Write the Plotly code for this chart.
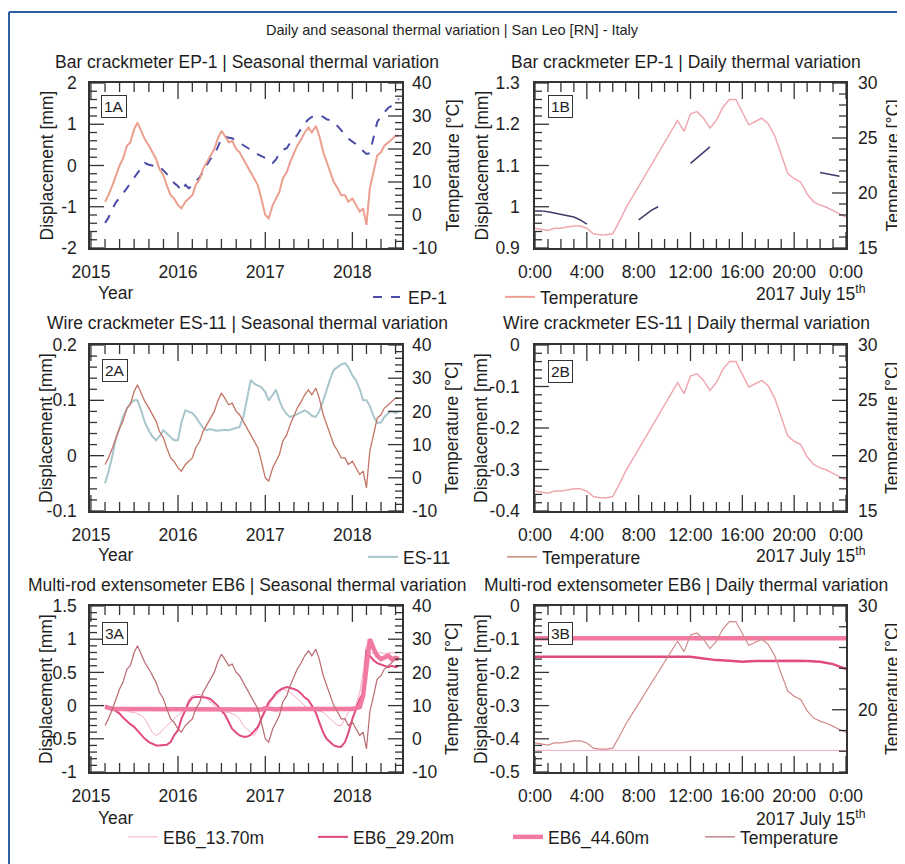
from datetime import datetime
import plotly.graph_objects as go

W, H = 905, 864            # reference picture size
OFF = 8                    # page body margin offset of the plot div
WF, HF = W - OFF, H - OFF  # figure size
FONT = "Liberation Sans, Arial, sans-serif"
TXT = "#1e1e1e"
AXC = "#333333"
FS = 17.5

# ---------------- data ----------------
season_dates = [f"{y}-{m:02d}-{d:02d}" for y in range(2015, 2019) for m in range(1, 13) for d in (1, 15)
                if (2015, 3) <= (y, m) <= (2018, 7)]

temp_season = [4, 6, 9, 12, 15, 17, 21, 22, 26, 28, 25, 23, 21, 19, 17, 14, 12, 9, 6, 5,
               3, 2, 4, 5, 6, 9, 11, 14, 16, 18, 20, 23, 25.5, 24, 22, 22.5, 20, 19, 17, 15, 13, 11, 9, 5,
               0, -1, 3, 5, 7, 11, 13, 16, 19, 21, 23, 25, 26.5, 25, 27, 24, 19, 16, 13, 10, 8, 6, 6, 4,
               5, 3, 1, 2, -3, 8, 13, 18, 19, 21, 22, 23, 24, 24]

ep1_season = [-1.39, -1.27, -1.05, -0.9, -0.78, -0.68, -0.55, -0.42, -0.3, -0.18, -0.05, 0.06, 0.02, 0.0, -0.02, -0.02, -0.12, -0.2, -0.3, -0.42,
              -0.5, -0.62, -0.47, -0.55, -0.5, -0.4, -0.28, -0.15, 0.0, 0.15, 0.25, 0.45, 0.65, 0.71, 0.67, 0.66, 0.6, 0.55, 0.5, 0.45, 0.4, 0.33, 0.27, 0.23,
              0.18, 0.1, 0.06, 0.15, 0.3, 0.38, 0.42, 0.55, 0.65, 0.74, 0.9, 1.02, 1.12, 1.18, 1.2, 1.22, 1.18, 1.12, 1.1, 1.05, 0.95, 0.85, 0.74, 0.65,
              0.58, 0.52, 0.45, 0.35, 0.28, 0.3, 0.75, 1.05, 1.2, 1.3, 1.4, 1.45, 1.55, 1.62]

es11_season = [-0.05, -0.03, 0.0, 0.03, 0.05, 0.07, 0.085, 0.095, 0.1, 0.1, 0.08, 0.06, 0.045, 0.035, 0.028, 0.035, 0.046, 0.04, 0.035, 0.028,
               0.028, 0.06, 0.082, 0.08, 0.077, 0.07, 0.06, 0.05, 0.046, 0.048, 0.046, 0.045, 0.046, 0.047, 0.046, 0.048, 0.05, 0.052, 0.07, 0.1, 0.137, 0.13, 0.127, 0.124,
               0.115, 0.1, 0.11, 0.119, 0.1, 0.085, 0.075, 0.07, 0.072, 0.075, 0.08, 0.082, 0.078, 0.072, 0.07, 0.08, 0.1, 0.12, 0.14, 0.155, 0.16, 0.165, 0.167, 0.16,
               0.145, 0.137, 0.12, 0.1, 0.1, 0.09, 0.07, 0.059, 0.06, 0.07, 0.077, 0.08, 0.077, 0.08]

eb6_13_season = [0.0, -0.05, -0.03, -0.05, -0.06, -0.05, -0.08, -0.1, -0.1, -0.12, -0.15, -0.2, -0.3, -0.4, -0.45, -0.42, -0.35, -0.3, -0.25, -0.2,
                 -0.15, -0.1, -0.05, 0.1, 0.15, 0.16, 0.17, 0.15, 0.1, 0.05, 0.0, -0.05, -0.08, -0.1, -0.1, -0.12, -0.15, -0.2, -0.3, -0.35, -0.4, -0.45, -0.35, -0.2,
                 -0.1, 0.0, 0.1, 0.15, 0.2, 0.25, 0.22, 0.2, 0.15, 0.1, 0.05, 0.0, -0.05, -0.05, -0.08, -0.08, -0.1, -0.15, -0.2, -0.25, -0.3, -0.3, -0.2, -0.1,
                 -0.05, 0.0, 0.2, 0.5, 0.9, 0.8, 0.78, 0.79, 0.8, 0.78, 0.79, 0.8, 0.79, 0.8]

eb6_29_season = [0.0, -0.02, -0.04, -0.08, -0.12, -0.18, -0.24, -0.28, -0.32, -0.38, -0.45, -0.5, -0.55, -0.57, -0.6, -0.6, -0.6, -0.59, -0.55, -0.45,
                 -0.37, -0.2, -0.07, 0.05, 0.12, 0.13, 0.13, 0.13, 0.12, 0.1, 0.05, 0.0, -0.08, -0.13, -0.25, -0.35, -0.41, -0.45, -0.47, -0.47, -0.44, -0.38, -0.32, -0.2,
                 -0.07, 0.05, 0.12, 0.19, 0.23, 0.26, 0.28, 0.27, 0.25, 0.23, 0.18, 0.12, 0.08, 0.0, -0.11, -0.25, -0.41, -0.5, -0.56, -0.6, -0.62, -0.62, -0.55, -0.41,
                 -0.2, -0.07, 0.1, 0.19, 0.84, 0.75, 0.68, 0.64, 0.62, 0.6, 0.58, 0.6, 0.58, 0.6]

eb6_44_season = [-0.02, -0.04, -0.05, -0.05, -0.05, -0.06, -0.05, -0.05, -0.06, -0.05, -0.05, -0.05, -0.06, -0.05, -0.05, -0.06, -0.05, -0.05, -0.05, -0.05,
                 -0.05, -0.06, -0.05, -0.05, -0.05, -0.06, -0.05, -0.05, -0.05, -0.06, -0.05, -0.05, -0.05, -0.05, -0.06, -0.05, -0.05, -0.05, -0.06, -0.05, -0.05, -0.05, -0.05, -0.06,
                 -0.04, -0.05, -0.05, -0.06, -0.05, -0.05, -0.05, -0.05, -0.06, -0.05, -0.05, -0.05, -0.05, -0.06, -0.05, -0.05, -0.05, -0.05, -0.06, -0.05, -0.05, -0.05, -0.05, -0.05,
                 -0.05, -0.04, -0.02, 0.15, 0.6, 1.0, 0.85, 0.75, 0.7, 0.72, 0.75, 0.7, 0.72, 0.7]

# daily (2017 July 15th), half-hourly
hours = [i * 0.5 for i in range(49)]
temp_daily = [16.8, 16.7, 16.6, 16.8, 16.8, 16.9, 17.0, 17.0, 16.8, 16.3, 16.2, 16.2, 16.3, 17.4, 18.6, 19.6, 20.6,
              21.6, 22.6, 23.6, 24.6, 25.6, 26.6, 25.6, 27.2, 27.4, 26.8, 25.9, 26.6, 27.8, 28.5, 28.5, 27.3,
              26.2, 26.5, 26.8, 26.3, 25.2, 23.5, 21.8, 21.3, 21.0, 19.9, 19.2, 18.9, 18.7, 18.4, 18.1, 17.8]
ep1_daily = [0.99, 0.99, 0.988, 0.985, 0.982, 0.978, 0.975, 0.968, 0.958, None, None, None, None, None, None, None,
             0.968, 0.98, 0.992, 1.0, None, None, None, None, 1.105, 1.118, 1.13, 1.145,
             None, None, None, None, None, None, None, None, None, None, None, None, None, None, None, None,
             1.083, 1.08, 1.077, 1.074, None]
hours_eb6 = list(range(25))
eb6_13_daily = [-0.435, -0.435, -0.435, -0.435, -0.435, -0.435, -0.435, -0.435, -0.435, -0.435, -0.435, -0.435, -0.435,
                -0.435, -0.435, -0.435, -0.435, -0.435, -0.435, -0.435, -0.435, -0.435, -0.435, -0.435, -0.435]
eb6_29_daily = [-0.153, -0.153, -0.153, -0.153, -0.153, -0.153, -0.153, -0.153, -0.153, -0.153, -0.153, -0.153, -0.153,
                -0.158, -0.163, -0.165, -0.168, -0.166, -0.165, -0.165, -0.165, -0.166, -0.168, -0.175, -0.19]
eb6_44_daily = [-0.097, -0.097, -0.097, -0.097, -0.097, -0.097, -0.097, -0.097, -0.097, -0.097, -0.097, -0.097, -0.097,
                -0.097, -0.097, -0.097, -0.097, -0.097, -0.097, -0.097, -0.097, -0.097, -0.097, -0.097, -0.097]

hour_ticks = [0, 4, 8, 12, 16, 20, 24]
hour_labels = ["0:00", "4:00", "8:00", "12:00", "16:00", "20:00", "0:00"]
year_ticks = ["2015-01-01", "2016-01-01", "2017-01-01", "2018-01-01"]

yl_1a = ([-2, -1, 0, 1, 2], ["-2", "-1", "0", "1", "2"])
yl_1b = ([0.9, 1.0, 1.1, 1.2, 1.3], ["0.9", "1", "1.1", "1.2", "1.3"])
yl_2a = ([-0.1, 0, 0.1, 0.2], ["-0.1", "0", "0.1", "0.2"])
yl_2b = ([-0.4, -0.3, -0.2, -0.1, 0], ["-0.4", "-0.3", "-0.2", "-0.1", "0"])
yl_3a = ([-1, -0.5, 0, 0.5, 1, 1.5], ["-1", "-0.5", "0", "0.5", "1", "1.5"])
yl_3b = ([-0.5, -0.4, -0.3, -0.2, -0.1, 0], ["-0.5", "-0.4", "-0.3", "-0.2", "-0.1", "0"])
yr_season = ([-10, 0, 10, 20, 30, 40], ["-10", "0", "10", "20", "30", "40"])
yr_daily = ([15, 20, 25, 30], ["15", "20", "25", "30"])
yr_3b = ([20, 30], ["20", "30"])

# ---------------- figure ----------------
fig = go.Figure()

C_EP1 = "#4b4ba8"
C_TEMP_A = "#eb9f8f"
C_TEMP_B = "#f0a8b0"
C_ES11 = "#a8c6cc"
C_TEMP_2A = "#c47466"
C_EP1_D = "#3c3c6c"
C_TEMP_3 = "#b86a70"
C_EB13 = "#f4aac2"
C_EB29 = "#e24a82"
C_EB44 = "#f27aa0"

fig.add_trace(go.Scatter(x=season_dates, y=temp_season, xaxis="x", yaxis="y2", mode="lines",
                         line=dict(color=C_TEMP_A, width=2), name="Temperature", legend="legend2"))
fig.add_trace(go.Scatter(x=season_dates, y=ep1_season, xaxis="x", yaxis="y", mode="lines",
                         line=dict(color=C_EP1, width=2, dash="dash"), name="EP-1", legend="legend"))
fig.add_trace(go.Scatter(x=hours, y=temp_daily, xaxis="x2", yaxis="y4", mode="lines",
                         line=dict(color=C_TEMP_B, width=1.5), showlegend=False))
fig.add_trace(go.Scatter(x=hours, y=ep1_daily, xaxis="x2", yaxis="y3", mode="lines",
                         line=dict(color=C_EP1_D, width=1.5), showlegend=False, connectgaps=False))
fig.add_trace(go.Scatter(x=season_dates, y=es11_season, xaxis="x3", yaxis="y5", mode="lines",
                         line=dict(color=C_ES11, width=2), name="ES-11", legend="legend3"))
fig.add_trace(go.Scatter(x=season_dates, y=temp_season, xaxis="x3", yaxis="y6", mode="lines",
                         line=dict(color=C_TEMP_2A, width=1.3), name="Temperature", legend="legend4"))
fig.add_trace(go.Scatter(x=[], y=[], xaxis="x4", yaxis="y7", mode="lines",
                         line=dict(color=C_ES11, width=1.5), showlegend=False))
fig.add_trace(go.Scatter(x=hours, y=temp_daily, xaxis="x4", yaxis="y8", mode="lines",
                         line=dict(color=C_TEMP_B, width=1.5), showlegend=False))
fig.add_trace(go.Scatter(x=season_dates, y=temp_season, xaxis="x5", yaxis="y10", mode="lines",
                         line=dict(color=C_TEMP_3, width=1.2), name="Temperature", legend="legend8"))
fig.add_trace(go.Scatter(x=season_dates, y=eb6_13_season, xaxis="x5", yaxis="y9", mode="lines",
                         line=dict(color=C_EB13, width=1), name="EB6_13.70m", legend="legend5"))
fig.add_trace(go.Scatter(x=season_dates, y=eb6_29_season, xaxis="x5", yaxis="y9", mode="lines",
                         line=dict(color=C_EB29, width=2), name="EB6_29.20m", legend="legend6"))
fig.add_trace(go.Scatter(x=season_dates, y=eb6_44_season, xaxis="x5", yaxis="y9", mode="lines",
                         line=dict(color=C_EB44, width=4.5), name="EB6_44.60m", legend="legend7"))
fig.add_trace(go.Scatter(x=hours, y=temp_daily, xaxis="x6", yaxis="y12", mode="lines",
                         line=dict(color="#d08a8a", width=1.2), showlegend=False))
fig.add_trace(go.Scatter(x=hours_eb6, y=eb6_13_daily, xaxis="x6", yaxis="y11", mode="lines",
                         line=dict(color=C_EB13, width=1), showlegend=False))
fig.add_trace(go.Scatter(x=hours_eb6, y=eb6_29_daily, xaxis="x6", yaxis="y11", mode="lines",
                         line=dict(color=C_EB29, width=2.5), showlegend=False))
fig.add_trace(go.Scatter(x=hours_eb6, y=eb6_44_daily, xaxis="x6", yaxis="y11", mode="lines",
                         line=dict(color=C_EB44, width=4.5), showlegend=False))


def fx(p):
    return (p - OFF) / WF


def fy(p):
    return 1 - (p - OFF) / HF


tickfont = dict(size=FS, color=TXT, family=FONT)
base = dict(showline=True, linecolor=AXC, linewidth=1.5, ticks="inside", tickcolor="rgba(0,0,0,0)", tickwidth=1,
            showgrid=False, zeroline=False, automargin=False, tickfont=tickfont, fixedrange=True)

XA = (90, 402)
XB = (535, 846)
ROWS = [(83, 248), (345, 511), (606, 772)]
SEASON_RANGE = ["2014-12-28", "2018-07-28"]

layout = {}


def season_x(name, anchor):
    layout[name] = dict(base, domain=[fx(XA[0]), fx(XA[1])], type="date", anchor=anchor,
                        range=SEASON_RANGE, dtick="M12", tick0="2015-01-01",
                        tickformat="%Y", ticklen=14, mirror=True, ticklabelstandoff=7)


def daily_x(name, anchor):
    layout[name] = dict(base, domain=[fx(XB[0]), fx(XB[1])], range=[0, 24], anchor=anchor,
                        tickmode="array", tickvals=hour_ticks, ticktext=hour_labels,
                        ticklen=14, mirror=True, ticklabelstandoff=7)


def left_y(name, anchor, row, rng, tl, stand):
    layout[name] = dict(base, domain=[fy(ROWS[row][1]), fy(ROWS[row][0])], anchor=anchor, range=rng,
                        tickmode="array", tickvals=tl[0], ticktext=tl[1], ticklen=12, mirror=True,
                        ticklabelstandoff=stand)


def right_y(name, anchor, over, rng, tl, stand):
    layout[name] = dict(base, showline=False, overlaying=over, side="right", anchor=anchor, range=rng,
                        tickmode="array", tickvals=tl[0], ticktext=tl[1], ticklen=12, ticklabelstandoff=stand)


season_x("xaxis", "y")
daily_x("xaxis2", "y3")
season_x("xaxis3", "y5")
daily_x("xaxis4", "y7")
season_x("xaxis5", "y9")
daily_x("xaxis6", "y11")

# panel specs: x id, left y id, kind, row, left range, left labels, standoff, left minor step,
#              right axis name, right range, right labels, right standoff, right minor step
panels = [
    ("x", "y", "season", 0, [-2, 2], yl_1a, 8, 0.2, "yaxis2", [-10, 40], yr_season, 9, 2),
    ("x2", "y3", "daily", 0, [0.9, 1.3], yl_1b, 10, 0.02, "yaxis4", [15, 30], yr_daily, 11, 1),
    ("x3", "y5", "season", 1, [-0.1, 0.2], yl_2a, 8, 0.02, "yaxis6", [-10, 40], yr_season, 9, 2),
    ("x4", "y7", "daily", 1, [-0.4, 0], yl_2b, 10, 0.02, "yaxis8", [15, 30], yr_daily, 11, 1),
    ("x5", "y9", "season", 2, [-1, 1.5], yl_3a, 8, 0.1, "yaxis10", [-10, 40], yr_season, 9, 2),
    ("x6", "y11", "daily", 2, [-0.5, 0], yl_3b, 10, 0.02, "yaxis12", [14, 30], yr_3b, 11, 2),
]
for (xid, yid, kind, row, rl, tll, sol, mstl, rname, rr, tlr, sor, mstr) in panels:
    left_y("yaxis" + yid[1:], xid, row, rl, tll, sol)
    right_y(rname, xid, yid, rr, tlr, sor)

# ---------------- tick marks (inside, drawn on the frames) ----------------
TW = 1.3
shapes = []
XS0 = datetime(2014, 12, 28)
XS1 = datetime(2018, 7, 28)


def season_at(f):
    return (XS0 + (XS1 - XS0) * f).strftime("%Y-%m-%d %H:%M:%S")


def daily_at(f):
    return 24.0 * f


def steps(lo, hi, st):
    n = int(round((hi - lo) / st))
    return [round(lo + k * st, 6) for k in range(n + 1)]


def add_line(xref, yref, x0, x1, y0, y1):
    shapes.append(dict(type="line", xref=xref, yref=yref, x0=x0, x1=x1, y0=y0, y1=y1,
                       line=dict(color=AXC, width=TW)))


minor_months = [f"{y}-{m:02d}-01" for y in range(2015, 2019) for m in (3, 5, 7, 9, 11) if (y, m) <= (2018, 7)]
minor_hours = [h for h in range(25) if h % 4]

for (xid, yid, kind, row, rl, tll, sol, mstl, rname, rr, tlr, sor, mstr) in panels:
    ph = ROWS[row][1] - ROWS[row][0]
    pw = (XA[1] - XA[0]) if kind == "season" else (XB[1] - XB[0])
    lo, hi = rl
    at = season_at if kind == "season" else daily_at
    majors_x = year_ticks if kind == "season" else hour_ticks
    minors_x = minor_months if kind == "season" else minor_hours
    for vals, L in ((majors_x, 16), (minors_x, 9)):
        d = L / ph * (hi - lo)
        for v in vals:
            add_line(xid, yid, v, v, lo, lo + d)
            add_line(xid, yid, v, v, hi, hi - d)
    # left axis ticks
    lmin = [v for v in steps(lo, hi, mstl) if all(abs(v - t) > 1e-9 for t in tll[0])]
    for vals, L in ((tll[0], 14), (lmin, 7)):
        f = L / pw
        for v in vals:
            add_line(xid, yid, at(0), at(f), v, v)
    # right axis ticks, mapped onto the left axis scale
    rlo, rhi = rr
    rmin = [v for v in steps(rlo, rhi, mstr) if all(abs(v - t) > 1e-9 for t in tlr[0])]
    for vals, L in ((tlr[0], 14), (rmin, 7)):
        f = L / pw
        for v in vals:
            vv = lo + (v - rlo) / (rhi - rlo) * (hi - lo)
            add_line(xid, yid, at(1), at(1 - f), vv, vv)

# outer blue frame (top and left edges)
shapes += [dict(type="line", xref="paper", yref="paper", x0=fx(9), x1=1.0, y0=fy(12), y1=fy(12),
                line=dict(color="#2e5ea8", width=2)),
           dict(type="line", xref="paper", yref="paper", x0=fx(9), x1=fx(9), y0=fy(12), y1=0,
                line=dict(color="#2e5ea8", width=2))]

# ---------------- text ----------------
ann = []


def txt(x, y, s, size=FS, angle=0, xanchor="center", yanchor="middle", **kw):
    ann.append(dict(x=fx(x), y=fy(y), xref="paper", yref="paper", text=s, showarrow=False,
                    font=dict(size=size, color=TXT, family=FONT), textangle=angle,
                    xanchor=xanchor, yanchor=yanchor, **kw))


txt(452, 30, "Daily and seasonal thermal variation | San Leo [RN] - Italy", size=14.5)
subs = [("Bar crackmeter EP-1 | Seasonal thermal variation", "Bar crackmeter EP-1 | Daily thermal variation", 62),
        ("Wire crackmeter ES-11 | Seasonal thermal variation", "Wire crackmeter ES-11 | Daily thermal variation", 323),
        ("Multi-rod extensometer EB6 | Seasonal thermal variation", "Multi-rod extensometer EB6 | Daily thermal variation", 585)]
for a, b, yy in subs:
    txt(247, yy, a)
    txt(686, yy, b)

for (top, bot) in ROWS:
    c = (top + bot) / 2
    txt(46, c, "Displacement [mm]", angle=-90)
    txt(452, c, "Temperature [°C]", angle=-90)
    txt(481, c, "Displacement [mm]", angle=-90)
    txt(892, c, "Temperature [°C]", angle=-90)

for yy in (293, 555, 818):
    txt(116, yy, "Year")
    txt(868, yy, "2017 July 15<sup>th</sup>", xanchor="right")

for (x, y, s) in ((114, 106, "1A"), (560, 106, "1B"), (115, 370, "2A"), (560, 371, "2B"),
                  (115, 633, "3A"), (560, 633, "3B")):
    txt(x, y, s, size=15.5, bgcolor="white", bordercolor=AXC, borderwidth=1, borderpad=2)

# ---------------- legends ----------------
leg_base = dict(orientation="h", xanchor="left", yanchor="middle", bgcolor="rgba(0,0,0,0)",
                font=dict(size=FS, color=TXT, family=FONT), borderwidth=0, itemwidth=30)
leg_pos = {"legend": (368, 297), "legend2": (500, 297), "legend3": (363, 557), "legend4": (502, 557),
           "legend5": (123, 837), "legend6": (313, 837), "legend7": (508, 837), "legend8": (700, 837)}
for k, (lx, ly) in leg_pos.items():
    layout[k] = dict(leg_base, x=fx(lx), y=fy(ly))

fig.update_layout(width=WF, height=HF, autosize=False, margin=dict(l=0, r=0, t=0, b=0),
                  paper_bgcolor="white", plot_bgcolor="white", annotations=ann, shapes=shapes,
                  font=dict(family=FONT, color=TXT), **layout)

fig.write_html("out.html")
